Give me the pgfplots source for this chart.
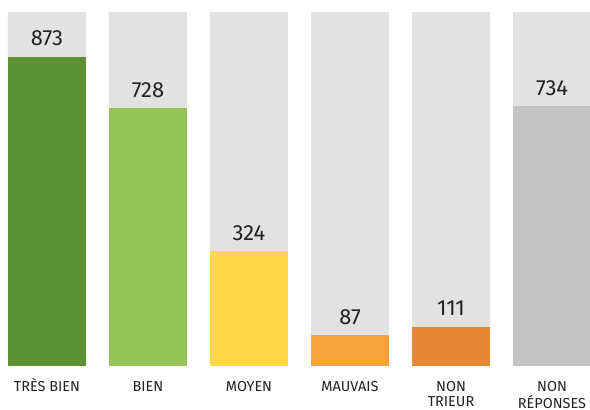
\documentclass[border=0pt]{standalone}
\usepackage{fontspec}
\setmainfont{Fira Sans}
\usepackage{pgfplots}
\pgfplotsset{compat=1.18}

\definecolor{bgbar}{HTML}{E2E2E2}
\definecolor{c1}{HTML}{5C9133}
\definecolor{c2}{HTML}{95C458}
\definecolor{c3}{HTML}{FFD84A}
\definecolor{c4}{HTML}{F6A33B}
\definecolor{c5}{HTML}{E58835}
\definecolor{c6}{HTML}{C4C4C4}
\definecolor{txt}{HTML}{222222}

\newcommand{\twolines}[2]{\begin{tabular}[t]{@{}c@{}}#1\\#2\end{tabular}}

\begin{document}
\begin{tikzpicture}
\begin{axis}[
    at={(0,0)}, anchor=south west,
    scale only axis,
    width=590bp, height=366bp,
    xmin=-0.465, xmax=5.376,
    ymin=0, ymax=1034,
    ybar, bar width=78bp, bar shift=0pt,
    axis line style={draw=none},
    tick style={draw=none},
    ytick=\empty,
    xtick={0,1,2,3,4,5},
    xticklabels={TRÈS BIEN, BIEN, MOYEN, MAUVAIS, \twolines{NON}{TRIEUR}, \twolines{NON}{RÉPONSES}},
    xticklabel style={anchor=base, yshift=-21bp, inner sep=0pt,
        font=\fontsize{14.5}{15.3}\selectfont, text=txt},
    /pgf/number format/assume math mode=true,
    every node near coord/.append style={anchor=base, inner sep=0pt, yshift=11bp,
        font=\fontsize{22}{24}\selectfont, text=txt},
]
% grey background bars (full scale)
\addplot[fill=bgbar, draw=none] coordinates {(0,1000) (1,1000) (2,1000) (3,1000) (4,1000) (5,1000)};

% values
\addplot[fill=c1, draw=none, nodes near coords] coordinates {(0,873)};
\addplot[fill=c2, draw=none, nodes near coords] coordinates {(1,728)};
\addplot[fill=c3, draw=none, nodes near coords] coordinates {(2,324)};
\addplot[fill=c4, draw=none, nodes near coords] coordinates {(3,87)};
\addplot[fill=c5, draw=none, nodes near coords] coordinates {(4,111)};
\addplot[fill=c6, draw=none, nodes near coords] coordinates {(5,734)};
\end{axis}
\pgfresetboundingbox
\useasboundingbox (0,-44bp) rectangle (590bp,366bp);
\end{tikzpicture}
\end{document}
